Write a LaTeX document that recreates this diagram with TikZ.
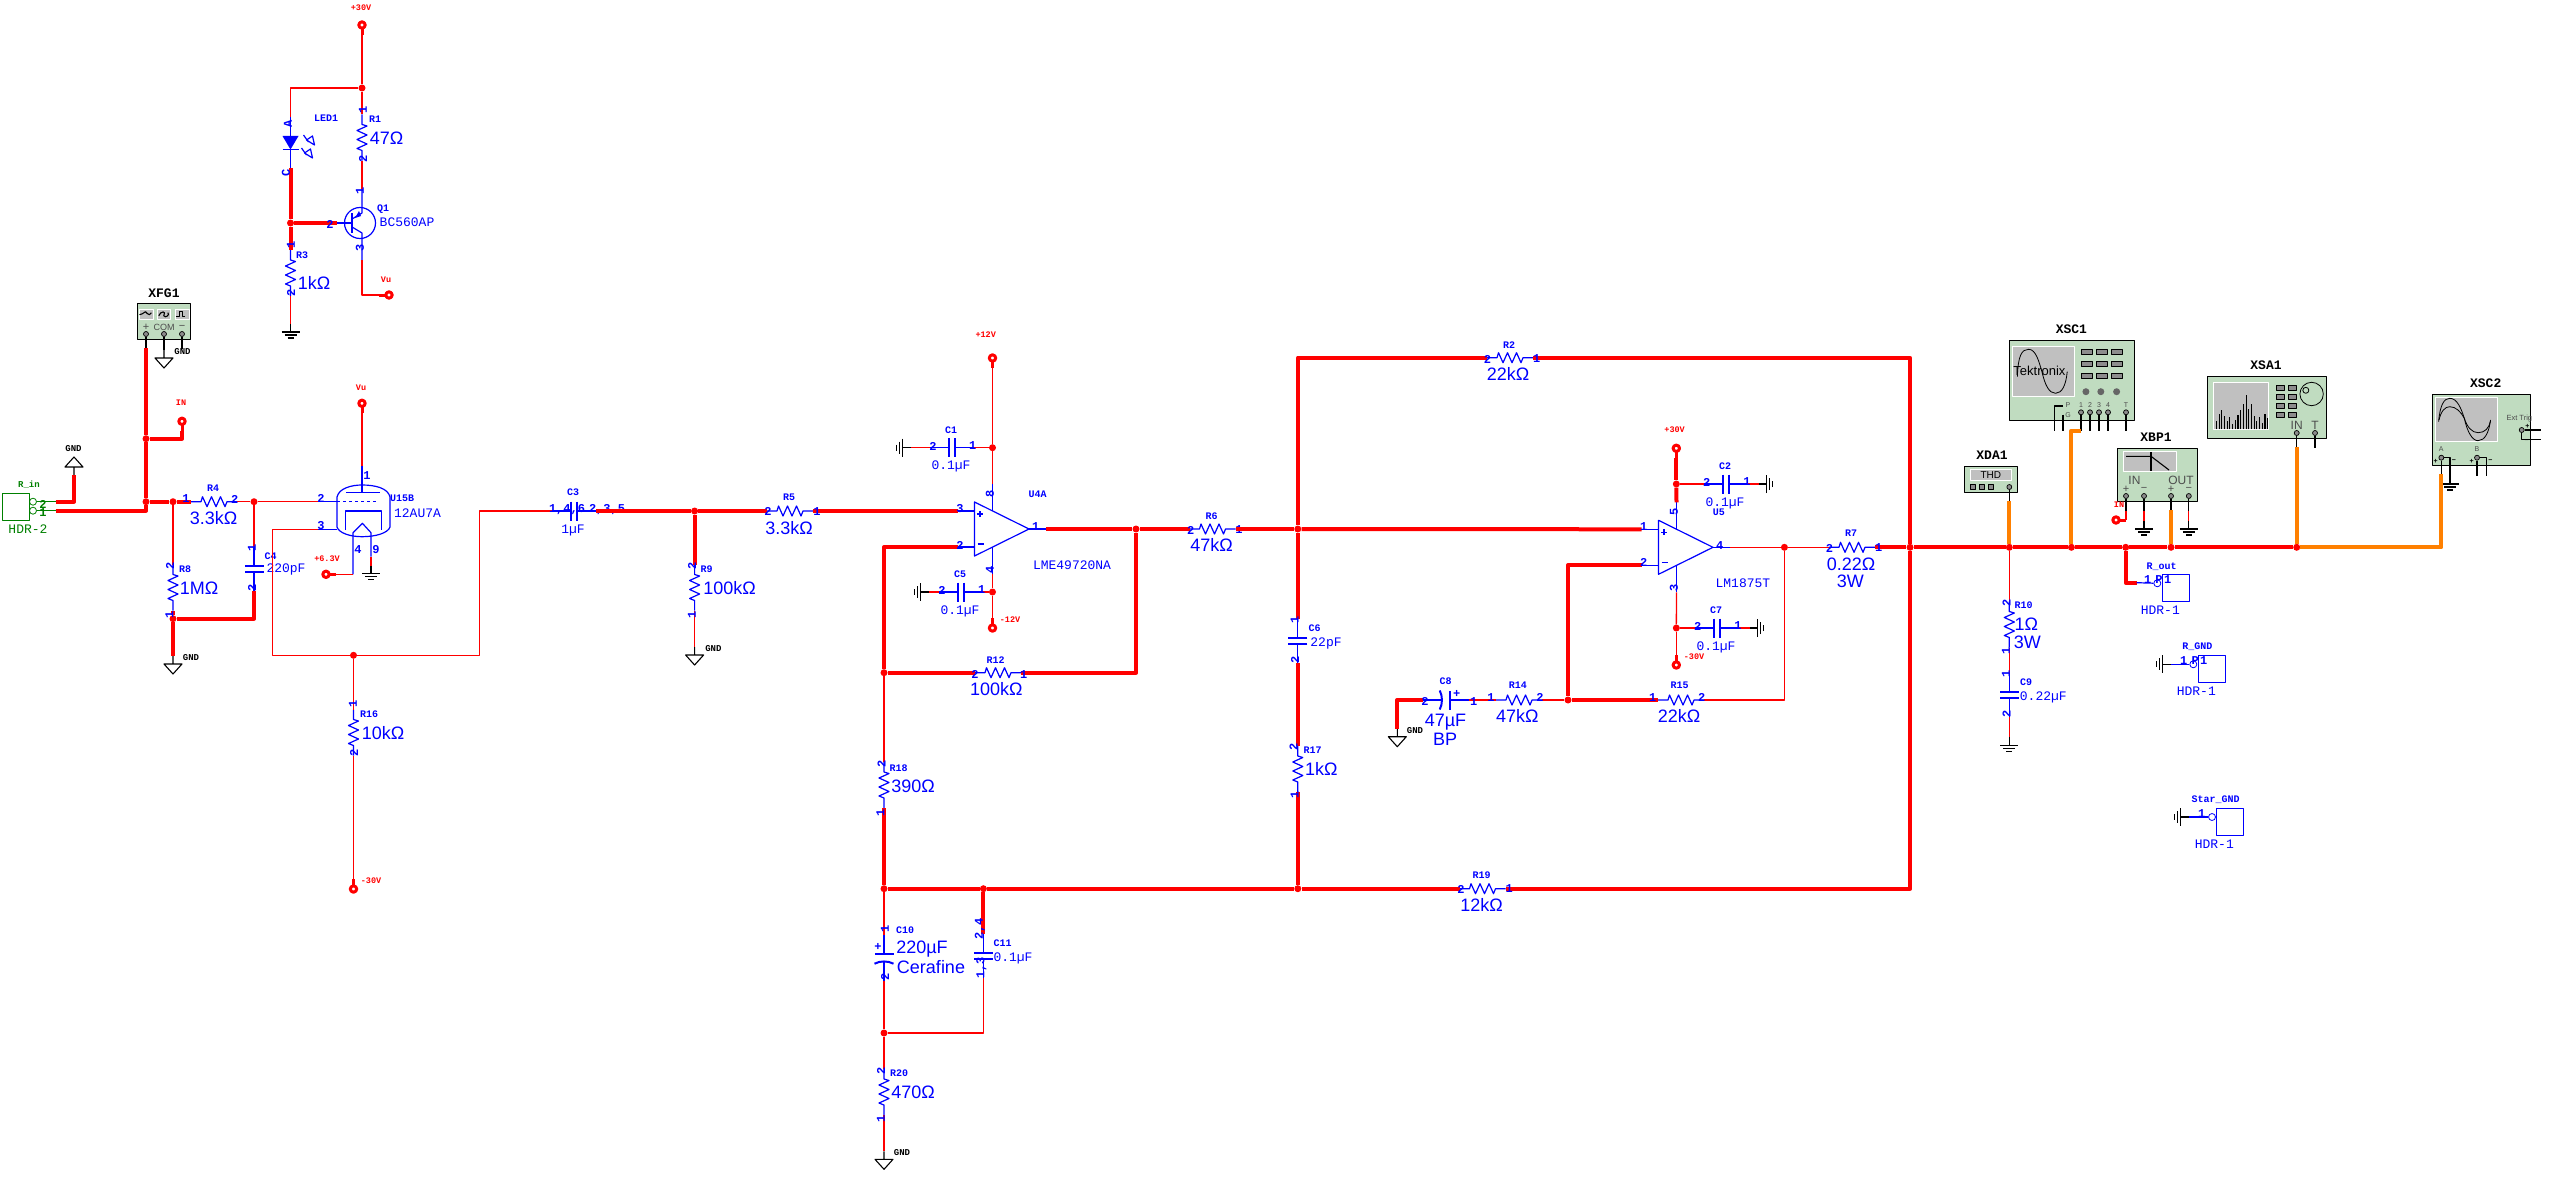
\documentclass[tikz,border=0pt]{standalone}
\usepackage{fontspec}
\setmainfont{Liberation Sans}
\newfontfamily\monofnt{Liberation Mono}
\definecolor{myred}{RGB}{255,0,0}
\definecolor{myblue}{RGB}{0,0,255}
\definecolor{myorange}{RGB}{255,128,0}
\definecolor{mygreen}{RGB}{0,128,0}
\definecolor{mypanel}{RGB}{192,220,192}
\definecolor{myscreen}{RGB}{192,192,192}
\begin{document}
\begin{tikzpicture}[x=1pt,y=-1pt,line join=round,
  myw/.style={myred,line width=1.3pt},
  myt/.style={myred,line width=4pt},
  myo/.style={myorange,line width=4pt},
  myb/.style={myblue,line width=1.2pt},
  myk/.style={black,line width=1.1pt},
  myj/.style={circle,fill=myred,inner sep=0pt,minimum size=7pt},
  myval/.style={myblue,inner sep=0pt,font=\fontsize{18}{20}\selectfont},
  mypart/.style={myblue,inner sep=0pt,font=\monofnt\fontsize{13}{15}\selectfont},
  mylab/.style={myblue,inner sep=0pt,font=\monofnt\bfseries\fontsize{10}{12}\selectfont},
  mypin/.style={myblue,inner sep=0pt,font=\monofnt\bfseries\fontsize{12}{14}\selectfont},
  mypinv/.style={mypin,rotate=90},
  myrl/.style={myred,inner sep=0pt,font=\monofnt\bfseries\fontsize{8.5}{10}\selectfont},
  mygl/.style={black,inner sep=0pt,font=\monofnt\bfseries\fontsize{9}{10}\selectfont},
  myname/.style={black,inner sep=0pt,font=\monofnt\bfseries\fontsize{13}{15}\selectfont},
  myins/.style={black!70,inner sep=0pt,font=\fontsize{11}{12}\selectfont},
  mybox/.style={draw=black,fill=mypanel,line width=1pt,inner sep=0pt},
  myscr/.style={draw=white,fill=myscreen,line width=1pt,inner sep=0pt},
  mybtn/.style={draw=black,fill=black!45,line width=.7pt,inner sep=0pt},
  mypd/.style={circle,draw=black,fill=black!45,line width=.7pt,inner sep=0pt,minimum size=5pt},
  myhdr/.style={draw=myblue,line width=1pt,inner sep=0pt,minimum size=27pt},
  mypc/.style={circle,draw=myblue,line width=.8pt,inner sep=0pt,minimum size=7pt},
  myr/.pic={\draw[myb] (-23,0) coordinate (-a) -- (-13,0) -- (-11.5,-5) -- (-7,5) -- (-2.5,-5) -- (2,5) -- (6.5,-5) -- (11,5) -- (13,0) -- (23,0) coordinate (-b);},
  myc/.pic={\draw[myb] (-22,0) coordinate (-a) -- (-3,0) (3,0) -- (22,0) coordinate (-b);
    \draw[myblue,line width=2pt] (-3,-9.5) -- (-3,9.5) (3,-9.5) -- (3,9.5);},
  mycp/.pic={\draw[myb] (-23,0) coordinate (-a) -- (-4,0) (4,0) -- (23,0) coordinate (-b);
    \draw[myblue,line width=2pt] (-4,-9.5) -- (-4,9.5);
    \draw[myblue,line width=2pt] (6,-9.5) .. controls (3,-4) and (3,4) .. (6,9.5);},
  myterm/.pic={\draw[myred,line width=3pt] (0,3) -- (0,10) coordinate (-a);
    \draw[myred,line width=3pt,fill=white] (0,0) circle (3.2);},
  mytri/.pic={\draw[myk] (0,-8) coordinate (-a) -- (0,0) (-9,0) -- (9,0) -- (0,10) -- cycle;},
  myear/.pic={\draw[myk] (0,-8) coordinate (-a) -- (0,0) (-9,0) -- (9,0) (-6,3) -- (6,3) (-3,6) -- (3,6);},
  myop/.pic={\draw[myb] (0,-27) -- (54.5,0) -- (0,27) -- cycle;
    \draw[myb] (-17,-18) coordinate (-p) -- (0,-18) (-17,18) coordinate (-n) -- (0,18);
    \draw[myb] (54.5,0) -- (71.5,0) coordinate (-o);
    \draw[myb] (18,-18) -- (18,-45) coordinate (-v) (18,18) -- (18,45) coordinate (-u);
    \draw[myb] (2.5,-15) -- (8.5,-15) (5.5,-18) -- (5.5,-12) (3,15) -- (9,15);},
  myq/.pic={\draw[myb] (0,0) circle (15.5);
    \draw[myb] (-8,-10) -- (-8,10) (-23,0) coordinate (-b) -- (-8,0);
    \draw[myb] (-8,-4) -- (2,-10) -- (2,-34) coordinate (-e);
    \draw[myb] (-8,4) -- (2,10) -- (2,37) coordinate (-c);
    \fill[myblue] (-5,-5) -- (-1,-12) -- (1,-7) -- cycle;},
  myled/.pic={\fill[myblue] (-8,-6) -- (8,-6) -- (0,7.5) -- cycle;
    \draw[myb] (0,-25) coordinate (-a) -- (0,26) coordinate (-c) (-8,7.5) -- (8,7.5);
    \draw[myb] (13,-7) -- (18,0) (16,-2) -- (24,3) -- (22,-6) -- cycle;
    \draw[myb] (11,6) -- (16,13) (14,11) -- (22,16) -- (20,7) -- cycle;},
  ]
\useasboundingbox (0,0) rectangle (2551,1188);

% LED driver
\pic (t1) at (362,25) {myterm};
\node[myj] (j1) at (362,88) {};
\pic[rotate=-90] (r1) at (362,137.5) {myr};
\pic (led1) at (290.5,142) {myled};
\pic (q1) at (360,223) {myq};
\node[myj] (j2) at (290.5,223) {};
\pic[rotate=-90] (r3) at (290.5,273) {myr};
\pic (e1) at (290.5,332) {myear};
\pic[rotate=-90] (t2) at (389,295) {myterm};
\draw[myw] (t1-a) -- (j1);
\draw[myw] (j1) -- (r1-a);
\draw[myw] (j1) -- (j1 -| led1-a) -- (led1-a);
\draw[myw] (r1-b) -- (q1-e);
\draw[myw] (q1-c) -- (q1-c |- t2-a) -- (t2-a);
\draw[myt] (led1-c) -- (j2);
\draw[myt] (j2) -- (r3-a);
\draw[myt] (j2) -- (q1-b);
\draw[myw] (r3-b) -- (e1-a);
\node[myrl] (l1) at (361,8) {+30V};
\node[mylab] (l2) at (375,119) {R1};
\node[myval] (l3) at (386.5,138.5) {47Ω};
\node[mylab] (l4) at (326,118) {LED1};
\node[mylab] (l5) at (383,209) {Q1};
\node[mypart] (l6) at (407,222) {BC560AP};
\node[mylab] (l7) at (302,255) {R3};
\node[myval] (l8) at (314,283) {1kΩ};
\node[myrl] (l9) at (386,280) {Vu};
\node[mypinv] (p1) at (363,110) {1};
\node[mypinv] (p2) at (363,159) {2};
\node[mypinv] (p3) at (288,124) {A};
\node[mypinv] (p4) at (286,173) {C};
\node[mypinv] (p5) at (360,191) {1};
\node[mypin] (p6) at (330,224) {2};
\node[mypinv] (p7) at (360,248) {3};
\node[mypinv] (p8) at (291,245) {1};
\node[mypinv] (p9) at (291,293) {2};

% function generator and input
\node[myname] (l10) at (164,293) {XFG1};
\node[mybox,minimum width=53pt,minimum height=35.5pt] (xfg) at (164,321.7) {};
\node[myscr,minimum width=13.5pt,minimum height=9.5pt] (w1) at (146.7,314.7) {};
\node[myscr,minimum width=13.5pt,minimum height=9.5pt] (w2) at (164,314.7) {};
\node[myscr,minimum width=13.5pt,minimum height=9.5pt] (w3) at (182.5,314.7) {};
\draw[myk] (w1.west) -- ++(3,-1) -- ++(3,-2) -- ++(2,2) -- ++(2,1) -- ++(2,-2);
\draw[myk] (w2.west) ++(2,1) .. controls ++(2,-5) and ++(3,-5) .. ++(5,0) .. controls ++(1,3) and ++(3,2) .. ++(4,-3);
\draw[myk] (w3.west) ++(1,2) -- ++(3,0) -- ++(0,-5) -- ++(3,0) -- ++(0,5) -- ++(3,0);
\node[myins] (l11) at (146,327) {+};
\node[myins,font=\fontsize{9}{10}\selectfont] (l12) at (164,327) {COM};
\node[myins] (l13) at (182,327) {−};
\node[mypd] (fg1) at (146,334) {};
\node[mypd] (fg2) at (164,334) {};
\node[mypd] (fg3) at (182,334) {};
\coordinate (fg1w) at (146,348);
\coordinate (fg3w) at (182,349);
\pic (g1) at (164,358) {mytri};
\node[mygl] (l14) at (182.5,352) {GND};
\draw[myk] (fg1) -- (fg1w);
\draw[myk] (fg2) -- (g1-a);
\draw[myk] (fg3) -- (fg3w);

\node[myj] (j3) at (146,438.7) {};
\node[myj] (j4) at (146,501.7) {};
\node[myj] (j5) at (173,501.7) {};
\node[myj] (j6) at (254,501.7) {};
\node[myj] (j7) at (173,618.7) {};
\pic (t3) at (182,421.3) {myterm};
\node[myrl] (l15) at (181,403) {IN};
\draw[myt] (fg1w) -- (j3);
\draw[myt] (j3) -- (j4);
\draw[myt] (j3) -- (j3 -| t3-a) -- (t3-a);

\node[draw=mygreen,line width=1pt,inner sep=0pt,minimum width=27pt,minimum height=27pt] (hdr2) at (16,506.8) {};
\node[circle,draw=mygreen,line width=.8pt,inner sep=0pt,minimum size=7pt] (h2c) at (33,501.7) {};
\node[circle,draw=mygreen,line width=.8pt,inner sep=0pt,minimum size=7pt] (h1c) at (33,510.7) {};
\coordinate (h2) at (55.5,501.7);
\coordinate (h1) at (55.5,510.7);
\draw[mygreen,line width=1.2pt] (h2c) -- (h2);
\draw[mygreen,line width=1.2pt] (h1c) -- (h1);
\node[mygreen,inner sep=0pt,font=\monofnt\bfseries\fontsize{9}{10}\selectfont] (l16) at (29,485) {R\_in};
\node[mypart,mygreen] (l17) at (28,529) {HDR-2};
\node[mypin,mygreen] (p10) at (43,504) {2};
\node[mypin,mygreen] (p11) at (43,513) {1};
\pic[rotate=180] (g2) at (74,467) {mytri};
\node[mygl] (l18) at (73.5,449) {GND};
\draw[myt] (h1) -- (j4 |- h1) -- (j4);
\draw[myt] (h2) -- (g2-a |- h2) -- (g2-a);

\pic (r4) at (214,501.7) {myr};
\pic[rotate=-90] (r8) at (173,587.5) {myr};
\pic[rotate=-90] (c4) at (254,569) {myc};
\pic (g3) at (173,664) {mytri};
\draw[myt] (j4) -- (j5);
\draw[myt] (j5) -- (r4-a);
\draw[myw] (r4-b) -- (j6);
\draw[myw] (j5) -- (r8-a);
\draw[myw] (j6) -- (c4-a);
\draw[myt] (c4-b) -- (c4-b |- j7) -- (j7);
\draw[myt] (r8-b) -- (j7);
\draw[myt] (j7) -- (g3-a);
\node[mylab] (l19) at (213,488) {R4};
\node[myval] (l20) at (213.5,517.7) {3.3kΩ};
\node[mylab] (l21) at (185,569.5) {R8};
\node[myval] (l22) at (199,588.3) {1MΩ};
\node[mylab] (l23) at (270.6,556) {C4};
\node[mypart] (l24) at (286,569.5) {220pF};
\node[mygl] (l25) at (191,658) {GND};
\node[mypin] (p12) at (186,499) {1};
\node[mypin] (p13) at (234.6,499) {2};
\node[mypinv] (p14) at (170,566) {2};
\node[mypinv] (p15) at (169.5,615) {1};
\node[mypinv] (p16) at (252,548) {1};
\node[mypinv] (p17) at (252,588) {2};

% tube
\draw[myb] (337,497) .. controls (339,488) and (352,485) .. (362,485) .. controls (375,485) and (388,488) .. (390,497) -- (390,527) .. controls (388,533) and (376,536.7) .. (362,536.7) .. controls (350,536.7) and (339,533) .. (337,527) -- cycle;
\coordinate (ua) at (362,466);
\coordinate (ug) at (317.6,501.7);
\coordinate (uk) at (317.6,529.3);
\coordinate (uh) at (353,574.3);
\coordinate (u9) at (371,556.7);
\draw[myb] (ua) -- (362,492.7) (346,492.7) -- (380,492.7);
\draw[myb] (ug) -- (337,501.7);
\draw[myb,dashed] (337,501.7) -- (378,501.7);
\draw[myb] (uk) -- (337,529.3);
\draw[myb] (345.6,530) -- (345.6,511) -- (381.5,511) -- (381.5,530);
\draw[myb] (353,532.7) -- (362.4,523.3) -- (371,532.7) (353,532.7) -- (uh) (371,532.7) -- (u9);
\node[mylab] (l26) at (402,498) {U15B};
\node[mypart] (l27) at (417.5,513) {12AU7A};
\node[mypin] (p18) at (367,476) {1};
\node[mypin] (p19) at (321,498.7) {2};
\node[mypin] (p20) at (321,526) {3};
\node[mypin] (p21) at (358,550) {4};
\node[mypin] (p22) at (376,550) {9};
\pic (t4) at (362,403.3) {myterm};
\node[myrl] (l28) at (361,388) {Vu};
\pic[rotate=90] (t5) at (326,574.3) {myterm};
\node[myrl] (l29) at (327,559) {+6.3V};
\pic (e2) at (371,573.7) {myear};
\draw[myw] (t4-a) -- (ua);
\draw[myw] (j6) -- (ug);
\draw[myw] (t5-a) -- (uh);
\draw[myw] (u9) -- (e2-a);

\node[myj] (j8) at (353.5,655.3) {};
\coordinate (k1) at (272.5,655.3);
\coordinate (k2) at (479.5,511);
\pic (c3) at (574,511) {myc};
\pic[rotate=-90] (r16) at (353.5,732.5) {myr};
\pic[rotate=180] (t6) at (353.5,889) {myterm};
\draw[myw] (uk) -- (k1 |- uk) -- (k1) -- (j8);
\draw[myw] (j8) -- (k2 |- j8) -- (k2) -- (c3-a);
\draw[myw] (j8) -- (r16-a);
\draw[myw] (r16-b) -- (t6-a);
\node[mylab] (l30) at (369,713.7) {R16};
\node[myval] (l31) at (383,732.7) {10kΩ};
\node[myrl] (l32) at (371,881) {-30V};
\node[mylab] (l33) at (573,492.7) {C3};
\node[mypart] (l34) at (573,530) {1µF};
\node[mypin] (p23) at (567,509.3) {1,4,6};
\node[mypin] (p24) at (607,509.3) {2,3,5};
\node[mypinv] (p25) at (353,704) {1};
\node[mypinv] (p26) at (354,752.7) {2};

% first op amp
\node[myj] (j9) at (694.6,511) {};
\pic[rotate=-90] (r9) at (694.6,587.5) {myr};
\pic (g4) at (694.6,655) {mytri};
\pic (r5) at (790,511) {myr};
\pic (op1) at (974.5,529) {myop};
\node[myj] (j10) at (992.5,447.7) {};
\node[myj] (j11) at (992.5,592) {};
\pic (t7) at (992.5,358) {myterm};
\pic[rotate=180] (t8) at (992.5,628) {myterm};
\pic (c1) at (952,447.7) {myc};
\pic (c5) at (961,592) {myc};
\pic[rotate=-90] (e3) at (902.7,447.7) {myear};
\pic[rotate=-90] (e4) at (920.5,592) {myear};
\node[myj] (j12) at (1136,529) {};
\node[myj] (j13) at (884,672.7) {};
\pic (r12) at (998,672.7) {myr};
\pic (r6) at (1212.5,529) {myr};
\draw[myt] (c3-b) -- (j9);
\draw[myt] (j9) -- (r5-a);
\draw[myt] (j9) -- (r9-a);
\draw[myw] (r9-b) -- (g4-a);
\draw[myt] (r5-b) -- (op1-p);
\draw[myw] (t7-a) -- (j10);
\draw[myw] (j10) -- (op1-v);
\draw[myw] (j10) -- (c1-b);
\draw[myw] (c1-a) -- (e3-a);
\draw[myw] (op1-u) -- (j11);
\draw[myw] (j11) -- (t8-a);
\draw[myw] (j11) -- (c5-b);
\draw[myw] (c5-a) -- (e4-a);
\draw[myt] (op1-o) -- (j12);
\draw[myt] (j12) -- (r6-a);
\draw[myt] (j12) -- (j12 |- r12-b) -- (r12-b);
\draw[myt] (r12-a) -- (j13);
\draw[myt] (j13) -- (j13 |- op1-n) -- (op1-n);
\node[mylab] (l35) at (706.7,569) {R9};
\node[myval] (l36) at (729.5,588) {100kΩ};
\node[mygl] (l37) at (713.4,649) {GND};
\node[mylab] (l38) at (789,497.7) {R5};
\node[myval] (l39) at (789,527.7) {3.3kΩ};
\node[myrl] (l40) at (985.7,335) {+12V};
\node[mylab] (l41) at (951,430) {C1};
\node[mypart] (l42) at (951,466.7) {0.1µF};
\node[mylab] (l43) at (960,574) {C5};
\node[mypart] (l44) at (960,611) {0.1µF};
\node[myrl] (l45) at (1010,620) {-12V};
\node[mylab] (l46) at (1037.5,494) {U4A};
\node[mypart] (l47) at (1072,565) {LME49720NA};
\node[mylab] (l48) at (995.5,659.7) {R12};
\node[myval] (l49) at (996.4,689) {100kΩ};
\node[mylab] (l50) at (1211.7,515.7) {R6};
\node[myval] (l51) at (1211.7,545) {47kΩ};
\node[mypinv] (p27) at (692,566) {2};
\node[mypinv] (p28) at (692,615) {1};
\node[mypin] (p29) at (768,511.7) {2};
\node[mypin] (p30) at (817,511.7) {1};
\node[mypin] (p31) at (960,509) {3};
\node[mypin] (p32) at (960,545) {2};
\node[mypinv] (p33) at (990,494) {8};
\node[mypinv] (p34) at (990,570) {4};
\node[mypin] (p35) at (1035.7,527) {1};
\node[mypin] (p36) at (933,446) {2};
\node[mypin] (p37) at (972.8,446) {1};
\node[mypin] (p38) at (942,590) {2};
\node[mypin] (p39) at (981.7,590) {1};
\node[mypin] (p40) at (975,674) {2};
\node[mypin] (p41) at (1023.7,675) {1};
\node[mypin] (p42) at (1190.7,530) {2};
\node[mypin] (p43) at (1239,530) {1};

% feedback to ground
\pic[rotate=-90] (r18) at (884,785) {myr};
\node[myj] (j14) at (884,888.7) {};
\node[myj] (j15) at (983.4,888.7) {};
\node[myj] (j16) at (1297.8,888.7) {};
\node[myj] (j17) at (884,1033) {};
\pic[rotate=-90] (c10) at (884,957.7) {mycp};
\pic[rotate=-90] (c11) at (983.4,956) {myc};
\pic[rotate=-90] (r20) at (884,1092) {myr};
\pic (g5) at (884,1159.3) {mytri};
\draw[myw] (j13) -- (r18-a);
\draw[myt] (r18-b) -- (j14);
\draw[myt] (j14) -- (j15);
\draw[myt] (j15) -- (j16);
\draw[myw] (j14) -- (c10-a);
\draw[myw] (c10-b) -- (j17);
\draw[myt] (j15) -- (c11-a);
\draw[myw] (c11-b) -- (c11-b |- j17) -- (j17);
\draw[myw] (j17) -- (r20-a);
\draw[myw] (r20-b) -- (g5-a);
\node[mylab] (l52) at (898.7,767.7) {R18};
\node[myval] (l53) at (913,786.7) {390Ω};
\node[mylab] (l54) at (905,929.7) {C10};
\node[myval] (l55) at (922,949) {220µF};
\node[myval] (l56) at (931,967) {Cerafine};
\node[mypin] (l57) at (878,947) {+};
\node[mylab] (l58) at (1002.5,942.7) {C11};
\node[mypart] (l59) at (1013,958) {0.1µF};
\node[mylab] (l60) at (899,1073) {R20};
\node[myval] (l61) at (913,1092.7) {470Ω};
\node[mygl] (l62) at (902,1153) {GND};
\node[mypinv] (p44) at (881.7,764) {2};
\node[mypinv] (p45) at (880.5,812.7) {1};
\node[mypinv] (p46) at (885,929) {1};
\node[mypinv] (p47) at (885,977) {2};
\node[mypinv] (p48) at (980,929) {2,4};
\node[mypinv] (p49) at (981.5,968) {1,3};
\node[mypinv] (p50) at (881,1071) {2};
\node[mypinv] (p51) at (881,1119) {1};

% output stage
\node[myj] (j18) at (1297.8,529) {};
\node[myj] (j23) at (1910,547.3) {};
\pic (r2) at (1510,357.7) {myr};
\pic (r19) at (1482.5,888.7) {myr};
\pic[rotate=-90] (c6) at (1297.8,641) {myc};
\pic[rotate=-90] (r17) at (1297.8,769) {myr};
\pic (op2) at (1658.5,547.3) {myop};
\pic (r7) at (1852,547.3) {myr};
\draw[myt] (r6-b) -- (j18);
\draw[myt] (j18) -- (op2-p);
\draw[myt] (j18) -- (j18 |- r2-a) -- (r2-a);
\draw[myt] (r2-b) -- (j23 |- r2-b) -- (j23);
\draw[myt] (j23) -- (j23 |- r19-b) -- (r19-b);
\draw[myt] (j16) -- (r19-a);
\draw[myt] (j18) -- (c6-a);
\draw[myt] (c6-b) -- (r17-a);
\draw[myt] (r17-b) -- (j16);
\draw[myt] (r7-b) -- (j23);
\pic (t9) at (1676.3,448.3) {myterm};
\pic[rotate=180] (t10) at (1676.3,665) {myterm};
\node[myj] (j19) at (1676.3,484) {};
\node[myj] (j20) at (1676.3,628) {};
\pic (c2) at (1725.7,484) {myc};
\pic (c7) at (1716.7,628) {myc};
\pic[rotate=90] (e5) at (1766.5,484) {myear};
\pic[rotate=90] (e6) at (1757.6,628) {myear};
\draw[myt] (t9-a) -- (j19);
\draw[myt] (j19) -- (op2-v);
\draw[myw] (j19) -- (c2-a);
\draw[myw] (c2-b) -- (e5-a);
\draw[myw] (op2-u) -- (j20);
\draw[myw] (j20) -- (t10-a);
\draw[myw] (j20) -- (c7-a);
\draw[myw] (c7-b) -- (e6-a);
\node[myj] (j21) at (1568,700) {};
\node[myj] (j22) at (1784.4,547.3) {};
\pic[rotate=180] (c8) at (1445.7,700) {mycp};
\pic (r14) at (1519,700) {myr};
\pic (r15) at (1681,700) {myr};
\pic (g6) at (1397.3,736.7) {mytri};
\draw[myt] (c8-b) -- (g6-a |- c8-b) -- (g6-a);
\draw[myw] (c8-a) -- (r14-a);
\draw[myw] (r14-b) -- (j21);
\draw[myt] (j21) -- (r15-a);
\draw[myt] (j21) -- (j21 |- op2-n) -- (op2-n);
\draw[myw] (r15-b) -- (j22 |- r15-b) -- (j22);
\draw[myw] (op2-o) -- (j22);
\draw[myw] (j22) -- (r7-a);
\node[mylab] (l63) at (1509,344.7) {R2};
\node[myval] (l64) at (1508,374) {22kΩ};
\node[mylab] (l65) at (1481.7,875.3) {R19};
\node[myval] (l66) at (1481.7,905) {12kΩ};
\node[mylab] (l67) at (1314.7,627.7) {C6};
\node[mypart] (l68) at (1326,643) {22pF};
\node[mylab] (l69) at (1312.5,750) {R17};
\node[myval] (l70) at (1321.4,769) {1kΩ};
\node[myrl] (l71) at (1674.6,430) {+30V};
\node[mylab] (l72) at (1725,466) {C2};
\node[mypart] (l73) at (1725,503) {0.1µF};
\node[mylab] (l74) at (1718.8,512.3) {U5};
\node[mypart] (l75) at (1742.9,583.3) {LM1875T};
\node[mylab] (l76) at (1716,610) {C7};
\node[mypart] (l77) at (1716,647) {0.1µF};
\node[myrl] (l78) at (1694,656.3) {-30V};
\node[mylab] (l79) at (1851,533.3) {R7};
\node[myval] (l80) at (1851,564) {0.22Ω};
\node[myval] (l81) at (1850.4,581.7) {3W};
\node[mylab] (l82) at (1445.5,680.7) {C8};
\node[myval] (l83) at (1445.5,721.7) {47µF};
\node[myval] (l84) at (1445,739.3) {BP};
\node[mypin] (l85) at (1456.7,694) {+};
\node[mygl] (l86) at (1415,730.3) {GND};
\node[mylab] (l87) at (1517.9,685.7) {R14};
\node[myval] (l88) at (1517.4,715.7) {47kΩ};
\node[mylab] (l89) at (1679.5,685.7) {R15};
\node[myval] (l90) at (1679,715.7) {22kΩ};
\node[mypin] (p52) at (1487.5,359) {2};
\node[mypin] (p53) at (1536.6,359) {1};
\node[mypin] (p54) at (1461,889) {2};
\node[mypin] (p55) at (1509.3,889) {1};
\node[mypinv] (p56) at (1294.6,620) {1};
\node[mypinv] (p57) at (1295,660) {2};
\node[mypinv] (p58) at (1293.7,746.7) {2};
\node[mypinv] (p59) at (1294.6,795) {1};
\node[mypin] (p60) at (1643.7,526.7) {1};
\node[mypin] (p61) at (1643.7,562.3) {2};
\node[mypinv] (p62) at (1674,511.7) {5};
\node[mypinv] (p63) at (1674,587.7) {3};
\node[mypin] (p64) at (1719.6,545.3) {4};
\node[mypin] (p65) at (1706.7,482) {2};
\node[mypin] (p66) at (1746.9,482) {1};
\node[mypin] (p67) at (1697.8,626) {2};
\node[mypin] (p68) at (1738,626) {1};
\node[mypin] (p69) at (1829.5,548.3) {2};
\node[mypin] (p70) at (1878.6,548) {1};
\node[mypin] (p71) at (1425,701.7) {2};
\node[mypin] (p72) at (1473.7,701.7) {1};
\node[mypin] (p73) at (1491,697.3) {1};
\node[mypin] (p74) at (1540,697.3) {2};
\node[mypin] (p75) at (1652.7,697.3) {1};
\node[mypin] (p76) at (1701.8,697.3) {2};

% output bus
\node[myj] (j24) at (2009.3,547.3) {};
\node[myj] (j25) at (2071.4,547.3) {};
\node[myj] (j26) at (2125.7,547.3) {};
\node[myj] (j27) at (2171,547.3) {};
\node[myj] (j28) at (2296.7,547.3) {};
\draw[myt] (j23) -- (j24);
\draw[myt] (j24) -- (j25);
\draw[myt] (j25) -- (j26);
\draw[myt] (j26) -- (j27);
\draw[myt] (j27) -- (j28);
\pic[rotate=-90] (r10) at (2009.3,624.5) {myr};
\pic[rotate=-90] (c9) at (2009.3,694.5) {myc};
\pic (e7) at (2009.3,745.3) {myear};
\draw[myw] (j24) -- (r10-a);
\draw[myw] (r10-b) -- (c9-a);
\draw[myw] (c9-b) -- (e7-a);
\node[mylab] (l91) at (2023.7,605.3) {R10};
\node[myval] (l92) at (2026.3,624.7) {1Ω};
\node[myval] (l93) at (2027.3,642.7) {3W};
\node[mylab] (l94) at (2026,682) {C9};
\node[mypart] (l95) at (2043.3,697) {0.22µF};
\node[mypinv] (p77) at (2006.7,602.7) {2};
\node[mypinv] (p78) at (2006,650.7) {1};
\node[mypinv] (p79) at (2006,674) {1};
\node[mypinv] (p80) at (2006.7,714) {2};

% headers
\node[myhdr] (hd1) at (2175.8,587.8) {};
\node[mypc] (hc1) at (2157.3,583.3) {};
\coordinate (hw1) at (2136.5,582.7);
\draw[myt] (j26) -- (j26 |- hw1) -- (hw1);
\draw[myb] (hw1) -- (hc1);
\node[mylab] (l96) at (2161.7,566.3) {R\_out};
\node[mypart] (l97) at (2160.3,610) {HDR-1};
\node[mypin] (p81) at (2147.7,580) {1};
\node[mypin] (p82) at (2159,580) {P};
\node[mypin] (p83) at (2167.7,580) {1};
\node[myhdr] (hd2) at (2211.8,668.8) {};
\node[mypc] (hc2) at (2193.3,664.3) {};
\pic[rotate=-90] (e8) at (2162.7,664.3) {myear};
\draw[myb] (e8-a) -- (hc2);
\node[mylab] (l98) at (2197.3,647) {R\_GND};
\node[mypart] (l99) at (2196.3,691) {HDR-1};
\node[mypin] (p84) at (2183.7,660.7) {1};
\node[mypin] (p85) at (2195.3,660.7) {P};
\node[mypin] (p86) at (2203.7,660.7) {1};
\node[myhdr] (hd3) at (2229.8,821.8) {};
\node[mypc] (hc3) at (2212,817) {};
\pic[rotate=-90] (e9) at (2180.7,817) {myear};
\draw[myb] (e9-a) -- (hc3);
\node[mylab] (l100) at (2215.7,800) {Star\_GND};
\node[mypart] (l101) at (2214.3,844) {HDR-1};
\node[mypin] (p87) at (2201.7,813.7) {1};

% distortion analyzer
\node[myname] (l102) at (1992,455) {XDA1};
\node[mybox,minimum width=53pt,minimum height=26.4pt] (xda) at (1990.8,479.5) {};
\node[myscr,minimum width=40.7pt,minimum height=11.4pt,text=black,font=\fontsize{10}{11}\selectfont] (xdas) at (1990.8,475) {THD};
\node[mybtn,minimum size=5pt] (xd1) at (1973,487) {};
\node[mybtn,minimum size=5pt] (xd2) at (1982,487) {};
\node[mybtn,minimum size=5pt] (xd3) at (1991,487) {};
\node[mypd] (xdp) at (2009.3,487) {};
\coordinate (xdw) at (2009.3,501);
\draw[myk] (xdp) -- (xdw);
\draw[myo] (xdw) -- (j24);

% scope
\node[myname] (l103) at (2071.4,329) {XSC1};
\node[mybox,minimum width=125pt,minimum height=80pt] (xsc1) at (2072,380.3) {};
\node[myscr,minimum width=62pt,minimum height=50pt] (xs1s) at (2043.4,371.7) {};
\draw[black,line width=.8pt] (2017.4,376.7) .. controls (2018,355) and (2022,349.3) .. (2028.6,349.3) .. controls (2036,349.3) and (2039,362) .. (2042,372) .. controls (2045,385) and (2049,393.3) .. (2055.6,393.3) .. controls (2062,393.3) and (2066,385) .. (2067.2,371.7);
\node[inner sep=0pt,font=\fontsize{13}{14}\selectfont] (l104) at (2039.4,370.7) {Tektronix};
\foreach \x in {2086.9,2101.9,2116.8} \foreach \y in {352,364,376}
  \node[mybtn,minimum width=11pt,minimum height=5.4pt] at (\x,\y) {};
\node[circle,fill=black!60,inner sep=0pt,minimum size=7pt] (xk1) at (2085.9,391.7) {};
\node[circle,fill=black!60,inner sep=0pt,minimum size=7pt] (xk2) at (2100.8,391.7) {};
\node[circle,fill=black!60,inner sep=0pt,minimum size=7pt] (xk3) at (2116.6,391.7) {};
\node[myins,font=\fontsize{7}{8}\selectfont] (l105) at (2068,404.7) {P};
\node[myins,font=\fontsize{7}{8}\selectfont] (l106) at (2068,414.7) {G};
\node[myins,font=\fontsize{7}{8}\selectfont] (l107) at (2081,404.7) {1};
\node[myins,font=\fontsize{7}{8}\selectfont] (l108) at (2090,404.7) {2};
\node[myins,font=\fontsize{7}{8}\selectfont] (l109) at (2099,404.7) {3};
\node[myins,font=\fontsize{7}{8}\selectfont] (l110) at (2108,404.7) {4};
\node[myins,font=\fontsize{7}{8}\selectfont] (l111) at (2126,404.7) {T};
\node[mypd] (s1) at (2081,412.3) {};
\node[mypd] (s2) at (2090,412.3) {};
\node[mypd] (s3) at (2099,412.3) {};
\node[mypd] (s4) at (2108,412.3) {};
\node[mypd] (s5) at (2126,412.3) {};
\coordinate (s1w) at (2081,430.7);
\coordinate (s2w) at (2090,430.7);
\coordinate (s3w) at (2099,430.7);
\coordinate (s4w) at (2108,430.7);
\coordinate (s5w) at (2126,430.7);
\coordinate (spw) at (2054.4,430.7);
\coordinate (sgw) at (2063,430.7);
\coordinate (spp) at (2063,406);
\coordinate (sgp) at (2063,414.7);
\draw[myk] (s1) -- (s1w);
\draw[myk] (s2) -- (s2w);
\draw[myk] (s3) -- (s3w);
\draw[myk] (s4) -- (s4w);
\draw[myk] (s5) -- (s5w);
\draw[myk] (spp) -- (spw |- spp) -- (spw);
\draw[myk] (sgp) -- (sgw);
\draw[myo] (s1w) -- (j25 |- s1w) -- (j25);

% bode plotter
\node[myname] (l112) at (2156,437) {XBP1};
\node[mybox,minimum width=80pt,minimum height=53.4pt] (xbp) at (2157.4,475) {};
\node[myscr,minimum width=53pt,minimum height=19.6pt] (xbs) at (2149.8,461.5) {};
\draw[myk] (2126,456.3) -- (2151,456.3) -- (2169,470);
\draw[myk] (2151,452) -- (2151,471);
\node[myins,font=\fontsize{12}{13}\selectfont] (l113) at (2134.4,480) {IN};
\node[myins,font=\fontsize{12}{13}\selectfont] (l114) at (2181,480) {OUT};
\node[myins] (l115) at (2126.1,489) {+};
\node[myins] (l116) at (2144,489) {−};
\node[myins] (l117) at (2171,489) {+};
\node[myins] (l118) at (2188.8,489) {−};
\node[mypd] (bp1) at (2126,496) {};
\node[mypd] (bp2) at (2144,496) {};
\node[mypd] (bp3) at (2171,496) {};
\node[mypd] (bp4) at (2188.8,496) {};
\coordinate (bp1w) at (2126,511);
\coordinate (bp2w) at (2144,511);
\coordinate (bp3w) at (2171,510);
\coordinate (bp4w) at (2188.8,511);
\pic (e10) at (2144,529) {myear};
\pic (e11) at (2188.8,529) {myear};
\pic[rotate=90] (t11) at (2116,520) {myterm};
\node[myrl] (l119) at (2119,505) {IN};
\draw[myk] (bp1) -- (bp1w);
\draw[myw] (bp1w) -- (bp1w |- t11-a) -- (t11-a);
\draw[myk] (bp2) -- (bp2w);
\draw[myw] (bp2w) -- (e10-a);
\draw[myk] (bp3) -- (bp3w);
\draw[myo] (bp3w) -- (j27);
\draw[myk] (bp4) -- (bp4w);
\draw[myw] (bp4w) -- (e11-a);

% spectrum analyzer
\node[myname] (l120) at (2266,365) {XSA1};
\node[mybox,minimum width=119pt,minimum height=62pt] (xsa) at (2266.5,407.3) {};
\node[myscr,minimum width=55.6pt,minimum height=47.3pt] (xas) at (2241.1,406.3) {};
\foreach \h [count=\i] in {8,15,19,13,8,12,5,9,14,19,25,34,20,25,13,8,12,6,15,11}
  \draw[myk] ({2213.7+2.7*\i},429.3) -- ++(0,-\h);
\foreach \x in {2280.3,2292.4} \foreach \y in {387.7,396.7,405.7,414.7}
  \node[mybtn,minimum width=8pt,minimum height=4.7pt] at (\x,\y) {};
\node[circle,draw=black,line width=.8pt,inner sep=0pt,minimum size=23.4pt] (xan) at (2311.6,394) {};
\node[circle,draw=black,line width=.8pt,inner sep=0pt,minimum size=6pt] (xan2) at (2305.8,390.3) {};
\node[myins,font=\fontsize{12}{13}\selectfont] (l121) at (2296.7,425) {IN};
\node[myins,font=\fontsize{12}{13}\selectfont] (l122) at (2315,425) {T};
\node[mypd] (sa1) at (2296.7,433) {};
\node[mypd] (sa2) at (2315,433) {};
\coordinate (sa1w) at (2296.7,447.3);
\coordinate (sa2w) at (2315,448.3);
\draw[myk] (sa1) -- (sa1w);
\draw[myk] (sa2) -- (sa2w);
\draw[myo] (sa1w) -- (j28);

% second scope
\node[myname] (l123) at (2485.7,383) {XSC2};
\node[mybox,minimum width=98.3pt,minimum height=71pt] (xsc2) at (2481.5,429.8) {};
\node[myscr,minimum width=61.7pt,minimum height=44pt] (xc2s) at (2466.2,419.3) {};
\draw[black,line width=.8pt] (2438.6,421.7) .. controls (2440,405) and (2444,398.3) .. (2449.8,398.3) .. controls (2457,398.3) and (2461,408) .. (2464.3,418.3) .. controls (2467,431) and (2472,440.7) .. (2478,440.7) .. controls (2485,440.7) and (2489,432) .. (2490.5,420);
\draw[black,line width=.8pt] (2439,420) .. controls (2441,411) and (2445,406.7) .. (2449.8,406.7) .. controls (2456,406.7) and (2461,412) .. (2464.3,418.3) .. controls (2467,427) and (2472,432.7) .. (2478,432.7) .. controls (2485,432.7) and (2489,428) .. (2490.5,421);
\node[myins,font=\fontsize{7.5}{8}\selectfont] (l124) at (2519.3,418.7) {Ext Trig};
\node[myins,font=\fontsize{7}{8}\selectfont] (l125) at (2441.3,449) {A};
\node[myins,font=\fontsize{7}{8}\selectfont] (l126) at (2477,448.7) {B};
\node[myins,text=black,font=\bfseries\fontsize{7}{8}\selectfont] (l127) at (2435.7,461) {+};
\node[myins,text=black,font=\bfseries\fontsize{7}{8}\selectfont] (l128) at (2454,461) {−};
\node[myins,text=black,font=\bfseries\fontsize{7}{8}\selectfont] (l129) at (2471.7,461) {+};
\node[myins,text=black,font=\bfseries\fontsize{7}{8}\selectfont] (l130) at (2490.3,461) {−};
\node[myins,text=black,font=\bfseries\fontsize{7}{8}\selectfont] (l131) at (2527.3,426.7) {+};
\node[myins,text=black,font=\bfseries\fontsize{7}{8}\selectfont] (l132) at (2526.7,441) {−};
\node[mypd] (c2a) at (2441.3,457.7) {};
\node[mypd] (c2b) at (2477,457.7) {};
\node[mypd] (c2t) at (2521.7,430) {};
\coordinate (c2ax) at (2450,457.7);
\coordinate (c2bx) at (2486.3,457.7);
\coordinate (c2aw) at (2441.3,474.3);
\coordinate (c2bw) at (2477,476);
\coordinate (c2by) at (2486.3,476);
\coordinate (c2t1) at (2541,430);
\coordinate (c2t2) at (2541,439.3);
\pic (e12) at (2450,484) {myear};
\draw[myk] (c2a) -- (c2aw);
\draw[myk] (c2a) -- (c2ax) -- (e12-a);
\draw[myk] (c2b) -- (c2bw);
\draw[myk] (c2b) -- (c2bx) -- (c2by);
\draw[myk] (c2t) -- (c2t1);
\draw[myk] (c2t) -- (c2t |- c2t2) -- (c2t2);
\draw[myo] (j28) -- (c2aw |- j28) -- (c2aw);
\end{tikzpicture}
\end{document}
